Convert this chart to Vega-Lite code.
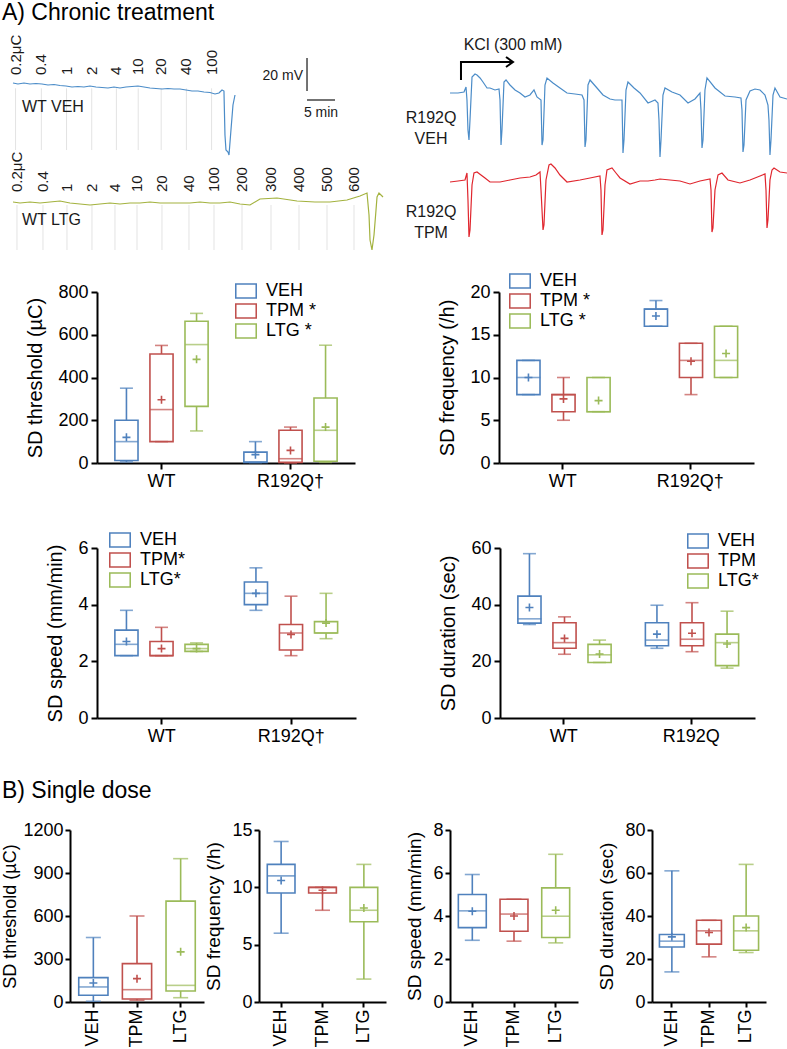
{
  "$schema": "https://vega.github.io/schema/vega-lite/v6.json",
  "background": "white",
  "autosize": {"type": "none"},
  "padding": {"left": 97, "top": 28, "right": 690, "bottom": 1021},
  "title": {"text": "A) Chronic treatment", "offset": 3},
  "config": {
    "font": "Liberation Sans",
    "view": {"stroke": null},
    "title": {"anchor": "start", "frame": "bounds", "fontSize": 23, "fontWeight": "normal", "color": "black"},
    "axis": {"domainColor": "black", "domainWidth": 2, "tickColor": "black", "tickWidth": 2, "tickSize": 6, "labelFontSize": 18, "labelColor": "black", "labelPadding": 3, "titleFontSize": 20, "titleFontWeight": "normal", "titleColor": "black", "titlePadding": 12, "grid": false, "labelOverlap": false, "labelFlush": false},
    "legend": {"symbolType": "M-1,-0.7H1V0.7H-1ZM-0.86,-0.56V0.56H0.86V-0.56Z", "symbolSize": 484, "symbolStrokeWidth": 0, "labelFontSize": 18, "labelColor": "black", "labelOffset": 9, "rowPadding": -1, "padding": 0}
  },
  "datasets": {
    "wtveh": [{"t":0.54,"v":1.21},{"t":1.43,"v":0.61},{"t":2.5,"v":1.21},{"t":3.57,"v":0.61},{"t":4.64,"v":0.91},{"t":5.71,"v":0.61},{"t":6.79,"v":0},{"t":7.86,"v":0.3},{"t":8.93,"v":-0.3},{"t":10.0,"v":-0.61},{"t":11.07,"v":-1.21},{"t":12.14,"v":-0.91},{"t":13.21,"v":-1.21},{"t":14.29,"v":-0.61},{"t":15.36,"v":-1.21},{"t":16.43,"v":-1.52},{"t":17.5,"v":-1.82},{"t":18.57,"v":-1.21},{"t":19.64,"v":-1.82},{"t":20.71,"v":-1.21},{"t":21.79,"v":-0.91},{"t":22.86,"v":-0.61},{"t":23.93,"v":-1.21},{"t":25.0,"v":-1.82},{"t":26.07,"v":-2.12},{"t":27.14,"v":-2.42},{"t":28.21,"v":-2.12},{"t":29.29,"v":-2.42},{"t":30.36,"v":-2.42},{"t":31.43,"v":-3.03},{"t":32.5,"v":-3.64},{"t":33.57,"v":-3.64},{"t":34.64,"v":-4.24},{"t":35.71,"v":-4.55},{"t":36.61,"v":-5.45},{"t":37.32,"v":-4.85},{"t":37.86,"v":-3.03},{"t":38.21,"v":-3.64},{"t":38.39,"v":-30.3},{"t":38.57,"v":-39.39},{"t":38.93,"v":-40.61},{"t":39.11,"v":-42.42},{"t":39.46,"v":-27.27},{"t":39.82,"v":-12.12},{"t":40.18,"v":-6.06}],
    "wtltg": [{"t":0.54,"v":0},{"t":1.79,"v":-0.61},{"t":3.57,"v":0},{"t":5.36,"v":-0.61},{"t":7.14,"v":0},{"t":8.93,"v":0.61},{"t":10.71,"v":-0.61},{"t":12.5,"v":-1.21},{"t":14.29,"v":-1.82},{"t":16.07,"v":-1.21},{"t":17.86,"v":-0.61},{"t":19.64,"v":-1.21},{"t":21.43,"v":-0.61},{"t":23.21,"v":-0.61},{"t":25.0,"v":0},{"t":26.79,"v":-0.61},{"t":28.57,"v":-0.61},{"t":30.36,"v":-0.61},{"t":32.14,"v":-0.61},{"t":33.93,"v":0},{"t":35.71,"v":-0.61},{"t":37.5,"v":-0.61},{"t":39.29,"v":0},{"t":41.07,"v":-1.21},{"t":42.86,"v":-1.82},{"t":44.64,"v":1.82},{"t":47.68,"v":2.42},{"t":51.25,"v":0.61},{"t":54.46,"v":0},{"t":57.14,"v":0},{"t":60.18,"v":1.21},{"t":62.5,"v":3.64},{"t":63.75,"v":5.45},{"t":64.11,"v":-7.88},{"t":64.29,"v":-23.03},{"t":64.64,"v":-29.09},{"t":65.0,"v":-20.0},{"t":65.36,"v":-4.85},{"t":65.54,"v":3.03},{"t":65.89,"v":5.45},{"t":66.61,"v":3.03}],
    "rveh": [{"t":8.93,"v":0},{"t":10.36,"v":0},{"t":11.43,"v":0.61},{"t":11.79,"v":3.64},{"t":11.96,"v":-4.24},{"t":12.14,"v":-22.42},{"t":12.32,"v":-28.48},{"t":12.5,"v":-16.36},{"t":12.86,"v":9.7},{"t":13.39,"v":11.52},{"t":13.75,"v":10.91},{"t":14.29,"v":9.09},{"t":14.82,"v":6.67},{"t":15.54,"v":3.03},{"t":16.07,"v":3.03},{"t":16.96,"v":1.82},{"t":17.68,"v":2.42},{"t":17.86,"v":-4.24},{"t":18.04,"v":-31.52},{"t":18.21,"v":-22.42},{"t":18.57,"v":6.67},{"t":18.93,"v":7.88},{"t":19.64,"v":4.85},{"t":20.54,"v":1.82},{"t":21.43,"v":0},{"t":22.32,"v":-2.42},{"t":23.21,"v":-1.21},{"t":23.93,"v":1.82},{"t":24.46,"v":-2.42},{"t":25.18,"v":-4.24},{"t":25.36,"v":-31.52},{"t":25.54,"v":-28.48},{"t":25.89,"v":4.85},{"t":26.25,"v":9.09},{"t":27.32,"v":6.06},{"t":28.57,"v":3.03},{"t":29.82,"v":0},{"t":31.25,"v":-0.61},{"t":32.5,"v":-1.21},{"t":32.86,"v":-4.24},{"t":33.04,"v":-32.73},{"t":33.21,"v":-28.48},{"t":33.57,"v":4.85},{"t":33.93,"v":7.88},{"t":35.18,"v":3.03},{"t":36.25,"v":-1.21},{"t":37.5,"v":-3.64},{"t":38.39,"v":-4.24},{"t":39.64,"v":-4.24},{"t":39.82,"v":-36.36},{"t":40.0,"v":-28.48},{"t":40.36,"v":1.82},{"t":40.71,"v":6.67},{"t":41.79,"v":3.03},{"t":42.86,"v":0},{"t":44.29,"v":-6.06},{"t":45.54,"v":-4.24},{"t":46.07,"v":-6.06},{"t":46.25,"v":-16.36},{"t":46.43,"v":-38.79},{"t":46.61,"v":-28.48},{"t":46.96,"v":-1.21},{"t":47.32,"v":3.03},{"t":48.57,"v":0.61},{"t":50.0,"v":-1.21},{"t":51.43,"v":-6.06},{"t":52.68,"v":-3.64},{"t":53.57,"v":0},{"t":53.75,"v":-10.3},{"t":53.93,"v":-33.33},{"t":54.11,"v":-28.48},{"t":54.46,"v":1.82},{"t":54.82,"v":9.09},{"t":56.25,"v":3.03},{"t":58.04,"v":-1.82},{"t":59.82,"v":-2.42},{"t":60.89,"v":-3.03},{"t":61.07,"v":-10.3},{"t":61.25,"v":-35.76},{"t":61.43,"v":-31.52},{"t":61.79,"v":-4.24},{"t":62.5,"v":1.21},{"t":63.39,"v":2.42},{"t":64.29,"v":1.82},{"t":65.18,"v":-1.21},{"t":65.71,"v":-7.27},{"t":65.89,"v":-16.36},{"t":66.07,"v":-37.58},{"t":66.25,"v":-28.48},{"t":66.61,"v":-1.21},{"t":66.96,"v":3.03},{"t":67.86,"v":-2.42},{"t":69.11,"v":-3.64}],
    "rtpm": [{"t":8.93,"v":-1.21},{"t":10.36,"v":-0.61},{"t":11.61,"v":0},{"t":11.96,"v":4.24},{"t":12.14,"v":-12.12},{"t":12.32,"v":-34.55},{"t":12.5,"v":-30.3},{"t":12.86,"v":-3.03},{"t":13.21,"v":4.24},{"t":13.75,"v":4.85},{"t":14.46,"v":3.03},{"t":15.18,"v":1.21},{"t":16.07,"v":-1.21},{"t":17.86,"v":-1.21},{"t":19.64,"v":0},{"t":21.43,"v":1.21},{"t":23.21,"v":1.82},{"t":24.29,"v":3.03},{"t":25.0,"v":4.85},{"t":25.18,"v":-6.06},{"t":25.54,"v":-30.3},{"t":25.71,"v":-27.27},{"t":26.07,"v":0},{"t":26.61,"v":9.09},{"t":26.96,"v":9.7},{"t":27.68,"v":7.27},{"t":28.57,"v":3.03},{"t":29.82,"v":-1.21},{"t":32.14,"v":0},{"t":33.93,"v":1.21},{"t":35.71,"v":2.42},{"t":35.89,"v":-6.06},{"t":36.07,"v":-33.33},{"t":36.25,"v":-30.3},{"t":36.61,"v":-3.03},{"t":36.96,"v":6.06},{"t":37.86,"v":7.27},{"t":38.57,"v":4.24},{"t":39.29,"v":1.21},{"t":41.07,"v":-2.42},{"t":42.86,"v":-0.61},{"t":44.29,"v":-0.61},{"t":45.54,"v":0},{"t":46.43,"v":0.61},{"t":48.21,"v":0},{"t":50.0,"v":-0.61},{"t":51.79,"v":-2.42},{"t":53.57,"v":-0.61},{"t":55.36,"v":0.61},{"t":55.54,"v":-6.06},{"t":55.71,"v":-31.52},{"t":55.89,"v":-29.09},{"t":56.25,"v":-6.06},{"t":56.79,"v":3.03},{"t":57.5,"v":4.24},{"t":58.57,"v":0},{"t":60.71,"v":-1.82},{"t":62.5,"v":0},{"t":64.29,"v":2.42},{"t":65.18,"v":3.64},{"t":65.36,"v":-6.06},{"t":65.54,"v":-29.09},{"t":65.71,"v":-24.24},{"t":66.07,"v":0},{"t":66.43,"v":6.06},{"t":66.79,"v":7.27},{"t":67.86,"v":4.85},{"t":69.11,"v":4.24}],
    "stimveh": [{"t":1.0,"label":"0.2μC"},{"t":5.6,"label":"0.4"},{"t":10.1,"label":"1"},{"t":14.6,"label":"2"},{"t":19.0,"label":"4"},{"t":22.9,"label":"10"},{"t":27.0,"label":"20"},{"t":31.5,"label":"40"},{"t":36.0,"label":"100"}],
    "stimltg": [{"t":1.25,"label":"0.2μC"},{"t":5.89,"label":"0.4"},{"t":10.18,"label":"1"},{"t":14.64,"label":"2"},{"t":18.75,"label":"4"},{"t":22.68,"label":"10"},{"t":27.14,"label":"20"},{"t":31.96,"label":"40"},{"t":36.43,"label":"100"},{"t":41.43,"label":"200"},{"t":46.61,"label":"300"},{"t":51.61,"label":"400"},{"t":56.61,"label":"500"},{"t":61.43,"label":"600"}],
    "thr": [
      {"genotype":"WT","treatment":"VEH","min":5,"q1":12,"median":100,"q3":200,"max":350,"mean":120},
      {"genotype":"WT","treatment":"TPM","min":100,"q1":100,"median":250,"q3":510,"max":550,"mean":296},
      {"genotype":"WT","treatment":"LTG","min":150,"q1":265,"median":554,"q3":663,"max":700,"mean":485},
      {"genotype":"R192Q","treatment":"VEH","min":2,"q1":3,"median":5,"q3":51,"max":100,"mean":39},
      {"genotype":"R192Q","treatment":"TPM","min":0,"q1":3,"median":20,"q3":153,"max":168,"mean":59},
      {"genotype":"R192Q","treatment":"LTG","min":3,"q1":8,"median":153,"q3":304,"max":551,"mean":168}
    ],
    "freq": [
      {"genotype":"WT","treatment":"VEH","min":8,"q1":8,"median":10,"q3":12,"max":12,"mean":10},
      {"genotype":"WT","treatment":"TPM","min":5,"q1":6,"median":8,"q3":8,"max":10,"mean":7.5},
      {"genotype":"WT","treatment":"LTG","min":6,"q1":6,"median":6,"q3":10,"max":10,"mean":7.3},
      {"genotype":"R192Q","treatment":"VEH","min":16,"q1":16,"median":18,"q3":18,"max":19,"mean":17.2},
      {"genotype":"R192Q","treatment":"TPM","min":8,"q1":10,"median":12,"q3":14,"max":14,"mean":11.9},
      {"genotype":"R192Q","treatment":"LTG","min":10,"q1":10,"median":12,"q3":16,"max":16,"mean":12.8}
    ],
    "speed": [
      {"genotype":"WT","treatment":"VEH","min":2.2,"q1":2.2,"median":2.6,"q3":3.1,"max":3.8,"mean":2.7},
      {"genotype":"WT","treatment":"TPM","min":2.2,"q1":2.2,"median":2.2,"q3":2.7,"max":3.2,"mean":2.45},
      {"genotype":"WT","treatment":"LTG","min":2.35,"q1":2.35,"median":2.45,"q3":2.6,"max":2.65,"mean":2.45},
      {"genotype":"R192Q","treatment":"VEH","min":3.8,"q1":4.0,"median":4.4,"q3":4.8,"max":5.3,"mean":4.4},
      {"genotype":"R192Q","treatment":"TPM","min":2.2,"q1":2.4,"median":3.0,"q3":3.3,"max":4.3,"mean":2.95},
      {"genotype":"R192Q","treatment":"LTG","min":2.8,"q1":3.0,"median":3.0,"q3":3.4,"max":4.4,"mean":3.35}
    ],
    "dur": [
      {"genotype":"WT","treatment":"VEH","min":33,"q1":33.5,"median":35,"q3":43,"max":58,"mean":39},
      {"genotype":"WT","treatment":"TPM","min":22.5,"q1":24.6,"median":26.6,"q3":33.6,"max":35.7,"mean":28.1},
      {"genotype":"WT","treatment":"LTG","min":19.6,"q1":19.6,"median":22.3,"q3":26,"max":27.5,"mean":22.6},
      {"genotype":"R192Q","treatment":"VEH","min":24.6,"q1":25.5,"median":27.5,"q3":33.6,"max":39.8,"mean":29.6},
      {"genotype":"R192Q","treatment":"TPM","min":23.4,"q1":25.5,"median":27.8,"q3":33.6,"max":40.7,"mean":29.9},
      {"genotype":"R192Q","treatment":"LTG","min":17.6,"q1":18.5,"median":26.6,"q3":29.6,"max":37.7,"mean":26.1}
    ],
    "sthr": [
      {"treatment":"VEH","min":5,"q1":47,"median":105,"q3":170,"max":450,"mean":133},
      {"treatment":"TPM","min":12,"q1":21,"median":86,"q3":268,"max":600,"mean":163},
      {"treatment":"LTG","min":30,"q1":77,"median":116,"q3":704,"max":1000,"mean":350}
    ],
    "sfreq": [
      {"treatment":"VEH","min":6,"q1":9.5,"median":11,"q3":12,"max":14,"mean":10.6},
      {"treatment":"TPM","min":8,"q1":9.5,"median":10,"q3":10,"max":10,"mean":9.75},
      {"treatment":"LTG","min":2,"q1":7,"median":8,"q3":10,"max":12,"mean":8.2}
    ],
    "sspeed": [
      {"treatment":"VEH","min":2.87,"q1":3.46,"median":4.24,"q3":5.0,"max":5.93,"mean":4.22},
      {"treatment":"TPM","min":2.83,"q1":3.29,"median":4.09,"q3":4.78,"max":4.78,"mean":4.0},
      {"treatment":"LTG","min":2.75,"q1":3.0,"median":3.99,"q3":5.31,"max":6.87,"mean":4.27}
    ],
    "sdur": [
      {"treatment":"VEH","min":14,"q1":25.6,"median":28.3,"q3":31.4,"max":61,"mean":30.3},
      {"treatment":"TPM","min":21,"q1":26.9,"median":33.1,"q3":38,"max":38,"mean":32.3},
      {"treatment":"LTG","min":23,"q1":24.1,"median":33.1,"q3":40,"max":64,"mean":34.6}
    ]
  },
  "spacing": 17,
  "resolve": {"scale": {"color": "independent"}, "legend": {"color": "independent"}},
  "vconcat": [
    {
      "spacing": 5,
      "hconcat": [
        {
          "width": 298, "height": 224,
          "layer": [
            {"layer": [
              {"data": {"name": "stimveh"}, "mark": {"type": "rule", "color": "#e3e3e3", "strokeWidth": 1},
               "encoding": {"x": {"field": "t", "type": "quantitative", "scale": {"domain": [15.54, 68.75], "nice": false, "zero": false}, "axis": null},
                            "y": {"datum": -2, "type": "quantitative", "scale": {"domain": [-101.21, 34.55], "nice": false, "zero": false}, "axis": null},
                            "y2": {"datum": -39.4}}},
              {"data": {"name": "wtveh"}, "mark": {"type": "line", "color": "#4b8cc8", "strokeWidth": 1.2},
               "encoding": {"x": {"field": "t", "type": "quantitative", "scale": {"domain": [15.54, 68.75], "nice": false, "zero": false}, "axis": null},
                            "y": {"field": "v", "type": "quantitative", "scale": {"domain": [-101.21, 34.55], "nice": false, "zero": false}, "axis": null}}},
              {"data": {"name": "stimveh"}, "mark": {"type": "text", "angle": 270, "align": "left", "baseline": "middle", "fontSize": 15, "color": "#1a1a1a"},
               "encoding": {"x": {"field": "t", "type": "quantitative", "scale": {"domain": [15.54, 68.75], "nice": false, "zero": false}, "axis": null},
                            "y": {"datum": 6.06, "type": "quantitative", "scale": {"domain": [-101.21, 34.55], "nice": false, "zero": false}, "axis": null},
                            "text": {"field": "label"}}},
              {"data": {"values": [{"t": 2.14, "v": -13.33, "label": "WT VEH"}]}, "mark": {"type": "text", "align": "left", "baseline": "middle", "fontSize": 16, "color": "#1a1a1a"},
               "encoding": {"x": {"field": "t", "type": "quantitative", "scale": {"domain": [15.54, 68.75], "nice": false, "zero": false}, "axis": null},
                            "y": {"field": "v", "type": "quantitative", "scale": {"domain": [-101.21, 34.55], "nice": false, "zero": false}, "axis": null},
                            "text": {"field": "label"}}},
              {"data": {"values": [{"t": 53.04, "t2": 53.04, "v": 16.36, "v2": -3.64}, {"t": 53.04, "t2": 58.04, "v": -9.09, "v2": -9.09}]}, "mark": {"type": "rule", "color": "#444444", "strokeWidth": 1.5},
               "encoding": {"x": {"field": "t", "type": "quantitative", "scale": {"domain": [15.54, 68.75], "nice": false, "zero": false}, "axis": null}, "x2": {"field": "t2"},
                            "y": {"field": "v", "type": "quantitative", "scale": {"domain": [-101.21, 34.55], "nice": false, "zero": false}, "axis": null}, "y2": {"field": "v2"}}},
              {"data": {"values": [{"t": 52.32, "v": 5.45, "label": "20 mV"}]}, "mark": {"type": "text", "align": "right", "baseline": "middle", "fontSize": 14, "color": "#1a1a1a"},
               "encoding": {"x": {"field": "t", "type": "quantitative", "scale": {"domain": [15.54, 68.75], "nice": false, "zero": false}, "axis": null},
                            "y": {"field": "v", "type": "quantitative", "scale": {"domain": [-101.21, 34.55], "nice": false, "zero": false}, "axis": null},
                            "text": {"field": "label"}}},
              {"data": {"values": [{"t": 55.54, "v": -16.97, "label": "5 min"}]}, "mark": {"type": "text", "align": "center", "baseline": "middle", "fontSize": 14, "color": "#1a1a1a"},
               "encoding": {"x": {"field": "t", "type": "quantitative", "scale": {"domain": [15.54, 68.75], "nice": false, "zero": false}, "axis": null},
                            "y": {"field": "v", "type": "quantitative", "scale": {"domain": [-101.21, 34.55], "nice": false, "zero": false}, "axis": null},
                            "text": {"field": "label"}}}
            ]},
            {"layer": [
              {"data": {"name": "stimltg"}, "mark": {"type": "rule", "color": "#e3e3e3", "strokeWidth": 1},
               "encoding": {"x": {"field": "t", "type": "quantitative", "scale": {"domain": [15.54, 68.75], "nice": false, "zero": false}, "axis": null},
                            "y": {"datum": -1.8, "type": "quantitative", "scale": {"domain": [-30.3, 105.45], "nice": false, "zero": false}, "axis": null},
                            "y2": {"datum": -29.1}}},
              {"data": {"name": "wtltg"}, "mark": {"type": "line", "color": "#a3b23e", "strokeWidth": 1.2},
               "encoding": {"x": {"field": "t", "type": "quantitative", "scale": {"domain": [15.54, 68.75], "nice": false, "zero": false}, "axis": null},
                            "y": {"field": "v", "type": "quantitative", "scale": {"domain": [-30.3, 105.45], "nice": false, "zero": false}, "axis": null}}},
              {"data": {"name": "stimltg"}, "mark": {"type": "text", "angle": 270, "align": "left", "baseline": "middle", "fontSize": 15, "color": "#1a1a1a"},
               "encoding": {"x": {"field": "t", "type": "quantitative", "scale": {"domain": [15.54, 68.75], "nice": false, "zero": false}, "axis": null},
                            "y": {"datum": 6.0, "type": "quantitative", "scale": {"domain": [-30.3, 105.45], "nice": false, "zero": false}, "axis": null},
                            "text": {"field": "label"}}},
              {"data": {"values": [{"t": 2.14, "v": -10.91, "label": "WT LTG"}]}, "mark": {"type": "text", "align": "left", "baseline": "middle", "fontSize": 16, "color": "#1a1a1a"},
               "encoding": {"x": {"field": "t", "type": "quantitative", "scale": {"domain": [15.54, 68.75], "nice": false, "zero": false}, "axis": null},
                            "y": {"field": "v", "type": "quantitative", "scale": {"domain": [-30.3, 105.45], "nice": false, "zero": false}, "axis": null},
                            "text": {"field": "label"}}}
            ]}
          ],
          "resolve": {"scale": {"y": "independent"}}
        },
        {
          "width": 387, "height": 224,
          "layer": [
            {"layer": [
              {"data": {"name": "rveh"}, "mark": {"type": "line", "color": "#4b8cc8", "strokeWidth": 1.2},
               "encoding": {"x": {"field": "t", "type": "quantitative", "scale": {"domain": [0, 69.11], "nice": false, "zero": false}, "axis": null},
                            "y": {"field": "v", "type": "quantitative", "scale": {"domain": [-96.36, 39.39], "nice": false, "zero": false}, "axis": null}}},
              {"data": {"values": [{"t": 10.89, "v": 7.88, "part": "stem", "i": 0}, {"t": 10.89, "v": 18.79, "part": "stem", "i": 1}, {"t": 20.18, "v": 18.79, "part": "stem", "i": 2}, {"t": 18.93, "v": 21.82, "part": "head", "i": 0}, {"t": 20.18, "v": 18.79, "part": "head", "i": 1}, {"t": 18.93, "v": 15.76, "part": "head", "i": 2}]},
               "mark": {"type": "line", "color": "black", "strokeWidth": 2},
               "encoding": {"x": {"field": "t", "type": "quantitative", "scale": {"domain": [0, 69.11], "nice": false, "zero": false}, "axis": null},
                            "y": {"field": "v", "type": "quantitative", "scale": {"domain": [-96.36, 39.39], "nice": false, "zero": false}, "axis": null},
                            "detail": {"field": "part"}, "order": {"field": "i"}}},
              {"data": {"values": [{"t": 20.18, "v": 29.09, "label": "KCl (300 mM)"}]}, "mark": {"type": "text", "align": "center", "baseline": "middle", "fontSize": 16, "color": "#1a1a1a"},
               "encoding": {"x": {"field": "t", "type": "quantitative", "scale": {"domain": [0, 69.11], "nice": false, "zero": false}, "axis": null},
                            "y": {"field": "v", "type": "quantitative", "scale": {"domain": [-96.36, 39.39], "nice": false, "zero": false}, "axis": null},
                            "text": {"field": "label"}}},
              {"data": {"values": [{"t": 5.54, "v": -15.15, "label": "R192Q\nVEH"}]}, "mark": {"type": "text", "align": "center", "baseline": "middle", "fontSize": 16, "lineBreak": "\n", "lineHeight": 21, "color": "#1a1a1a"},
               "encoding": {"x": {"field": "t", "type": "quantitative", "scale": {"domain": [0, 69.11], "nice": false, "zero": false}, "axis": null},
                            "y": {"field": "v", "type": "quantitative", "scale": {"domain": [-96.36, 39.39], "nice": false, "zero": false}, "axis": null},
                            "text": {"field": "label"}}}
            ]},
            {"layer": [
              {"data": {"name": "rtpm"}, "mark": {"type": "line", "color": "#e0262e", "strokeWidth": 1.2},
               "encoding": {"x": {"field": "t", "type": "quantitative", "scale": {"domain": [0, 69.11], "nice": false, "zero": false}, "axis": null},
                            "y": {"field": "v", "type": "quantitative", "scale": {"domain": [-43.64, 92.12], "nice": false, "zero": false}, "axis": null}}},
              {"data": {"values": [{"t": 5.54, "v": -19.39, "label": "R192Q\nTPM"}]}, "mark": {"type": "text", "align": "center", "baseline": "middle", "fontSize": 16, "lineBreak": "\n", "lineHeight": 21, "color": "#1a1a1a"},
               "encoding": {"x": {"field": "t", "type": "quantitative", "scale": {"domain": [0, 69.11], "nice": false, "zero": false}, "axis": null},
                            "y": {"field": "v", "type": "quantitative", "scale": {"domain": [-43.64, 92.12], "nice": false, "zero": false}, "axis": null},
                            "text": {"field": "label"}}}
            ]}
          ],
          "resolve": {"scale": {"y": "independent"}}
        }
      ]
    },
    {
      "spacing": 39,
      "resolve": {"scale": {"color": "independent"}, "legend": {"color": "independent"}},
      "vconcat": [
        {
          "spacing": 82,
          "resolve": {"scale": {"color": "independent"}, "legend": {"color": "independent"}},
          "hconcat": [
            {
              "width": 258, "height": 171,
              "data": {"name": "thr"},
              "encoding": {
                "x": {"field": "genotype", "type": "nominal", "sort": ["WT", "R192Q"], "scale": {"paddingInner": 0, "paddingOuter": 0}, "axis": {"title": null, "labelAngle": 0, "labelExpr": "datum.value == 'R192Q' ? 'R192Q†' : datum.value"}},
                "xOffset": {"field": "treatment", "type": "nominal", "sort": ["VEH", "TPM", "LTG"], "scale": {"paddingInner": 0.34, "paddingOuter": 0.51}},
                "color": {"field": "treatment", "type": "nominal", "scale": {"domain": ["VEH", "TPM", "LTG"], "range": ["#4F81BD", "#C0504D", "#9BBB59"]}, "legend": {"title": null, "orient": "none", "legendX": 138, "legendY": -12, "labelExpr": "datum.label == 'VEH' ? 'VEH' : datum.label + ' *'"}}
              },
              "layer": [
                {"mark": {"type": "bar", "filled": false, "strokeWidth": 1.6}, "encoding": {"y": {"field": "q1", "type": "quantitative", "scale": {"domain": [0, 800], "nice": false}, "axis": {"title": "SD threshold (µC)", "values": [0, 200, 400, 600, 800]}}, "y2": {"field": "q3"}}},
                {"mark": {"type": "rule", "strokeWidth": 1.6}, "encoding": {"y": {"field": "min", "type": "quantitative", "scale": {"domain": [0, 800], "nice": false}, "axis": {"title": "SD threshold (µC)", "values": [0, 200, 400, 600, 800]}}, "y2": {"field": "q1"}}},
                {"mark": {"type": "rule", "strokeWidth": 1.6}, "encoding": {"y": {"field": "q3", "type": "quantitative", "scale": {"domain": [0, 800], "nice": false}, "axis": {"title": "SD threshold (µC)", "values": [0, 200, 400, 600, 800]}}, "y2": {"field": "max"}}},
                {"mark": {"type": "tick", "size": 23, "thickness": 1.6}, "encoding": {"y": {"field": "median", "type": "quantitative", "scale": {"domain": [0, 800], "nice": false}, "axis": {"title": "SD threshold (µC)", "values": [0, 200, 400, 600, 800]}}}},
                {"mark": {"type": "tick", "size": 13, "thickness": 1.6}, "encoding": {"y": {"field": "min", "type": "quantitative", "scale": {"domain": [0, 800], "nice": false}, "axis": {"title": "SD threshold (µC)", "values": [0, 200, 400, 600, 800]}}}},
                {"mark": {"type": "tick", "size": 13, "thickness": 1.6}, "encoding": {"y": {"field": "max", "type": "quantitative", "scale": {"domain": [0, 800], "nice": false}, "axis": {"title": "SD threshold (µC)", "values": [0, 200, 400, 600, 800]}}}},
                {"mark": {"type": "point", "shape": "M-1,0H1M0,-1V1", "filled": false, "size": 64, "strokeWidth": 1.6, "opacity": 1}, "encoding": {"y": {"field": "mean", "type": "quantitative", "scale": {"domain": [0, 800], "nice": false}, "axis": {"title": "SD threshold (µC)", "values": [0, 200, 400, 600, 800]}}}}
              ]
            },
            {
              "width": 255, "height": 171,
              "data": {"name": "freq"},
              "encoding": {
                "x": {"field": "genotype", "type": "nominal", "sort": ["WT", "R192Q"], "scale": {"paddingInner": 0, "paddingOuter": 0}, "axis": {"title": null, "labelAngle": 0, "labelExpr": "datum.value == 'R192Q' ? 'R192Q†' : datum.value"}},
                "xOffset": {"field": "treatment", "type": "nominal", "sort": ["VEH", "TPM", "LTG"], "scale": {"paddingInner": 0.34, "paddingOuter": 0.51}},
                "color": {"field": "treatment", "type": "nominal", "scale": {"domain": ["VEH", "TPM", "LTG"], "range": ["#4F81BD", "#C0504D", "#9BBB59"]}, "legend": {"title": null, "orient": "none", "legendX": 10, "legendY": -22, "labelExpr": "datum.label == 'VEH' ? 'VEH' : datum.label + ' *'"}}
              },
              "layer": [
                {"mark": {"type": "bar", "filled": false, "strokeWidth": 1.6}, "encoding": {"y": {"field": "q1", "type": "quantitative", "scale": {"domain": [0, 20], "nice": false}, "axis": {"title": "SD frequency (/h)", "values": [0, 5, 10, 15, 20]}}, "y2": {"field": "q3"}}},
                {"mark": {"type": "rule", "strokeWidth": 1.6}, "encoding": {"y": {"field": "min", "type": "quantitative", "scale": {"domain": [0, 20], "nice": false}, "axis": {"title": "SD frequency (/h)", "values": [0, 5, 10, 15, 20]}}, "y2": {"field": "q1"}}},
                {"mark": {"type": "rule", "strokeWidth": 1.6}, "encoding": {"y": {"field": "q3", "type": "quantitative", "scale": {"domain": [0, 20], "nice": false}, "axis": {"title": "SD frequency (/h)", "values": [0, 5, 10, 15, 20]}}, "y2": {"field": "max"}}},
                {"mark": {"type": "tick", "size": 24, "thickness": 1.6}, "encoding": {"y": {"field": "median", "type": "quantitative", "scale": {"domain": [0, 20], "nice": false}, "axis": {"title": "SD frequency (/h)", "values": [0, 5, 10, 15, 20]}}}},
                {"mark": {"type": "tick", "size": 13, "thickness": 1.6}, "encoding": {"y": {"field": "min", "type": "quantitative", "scale": {"domain": [0, 20], "nice": false}, "axis": {"title": "SD frequency (/h)", "values": [0, 5, 10, 15, 20]}}}},
                {"mark": {"type": "tick", "size": 13, "thickness": 1.6}, "encoding": {"y": {"field": "max", "type": "quantitative", "scale": {"domain": [0, 20], "nice": false}, "axis": {"title": "SD frequency (/h)", "values": [0, 5, 10, 15, 20]}}}},
                {"mark": {"type": "point", "shape": "M-1,0H1M0,-1V1", "filled": false, "size": 64, "strokeWidth": 1.6, "opacity": 1}, "encoding": {"y": {"field": "mean", "type": "quantitative", "scale": {"domain": [0, 20], "nice": false}, "axis": {"title": "SD frequency (/h)", "values": [0, 5, 10, 15, 20]}}}}
              ]
            }
          ]
        },
        {
          "spacing": 35,
          "resolve": {"scale": {"color": "independent"}, "legend": {"color": "independent"}},
          "vconcat": [
            {
              "spacing": 82,
              "resolve": {"scale": {"color": "independent"}, "legend": {"color": "independent"}},
              "hconcat": [
                {
                  "width": 259, "height": 170,
                  "data": {"name": "speed"},
                  "encoding": {
                    "x": {"field": "genotype", "type": "nominal", "sort": ["WT", "R192Q"], "scale": {"paddingInner": 0, "paddingOuter": 0}, "axis": {"title": null, "labelAngle": 0, "labelExpr": "datum.value == 'R192Q' ? 'R192Q†' : datum.value"}},
                    "xOffset": {"field": "treatment", "type": "nominal", "sort": ["VEH", "TPM", "LTG"], "scale": {"paddingInner": 0.34, "paddingOuter": 0.51}},
                    "color": {"field": "treatment", "type": "nominal", "scale": {"domain": ["VEH", "TPM", "LTG"], "range": ["#4F81BD", "#C0504D", "#9BBB59"]}, "legend": {"title": null, "orient": "none", "legendX": 12, "legendY": -19, "labelExpr": "datum.label == 'VEH' ? 'VEH' : datum.label + '*'"}}
                  },
                  "layer": [
                    {"mark": {"type": "bar", "filled": false, "strokeWidth": 1.6}, "encoding": {"y": {"field": "q1", "type": "quantitative", "scale": {"domain": [0, 6], "nice": false}, "axis": {"title": "SD speed (mm/min)", "values": [0, 2, 4, 6]}}, "y2": {"field": "q3"}}},
                    {"mark": {"type": "rule", "strokeWidth": 1.6}, "encoding": {"y": {"field": "min", "type": "quantitative", "scale": {"domain": [0, 6], "nice": false}, "axis": {"title": "SD speed (mm/min)", "values": [0, 2, 4, 6]}}, "y2": {"field": "q1"}}},
                    {"mark": {"type": "rule", "strokeWidth": 1.6}, "encoding": {"y": {"field": "q3", "type": "quantitative", "scale": {"domain": [0, 6], "nice": false}, "axis": {"title": "SD speed (mm/min)", "values": [0, 2, 4, 6]}}, "y2": {"field": "max"}}},
                    {"mark": {"type": "tick", "size": 23, "thickness": 1.6}, "encoding": {"y": {"field": "median", "type": "quantitative", "scale": {"domain": [0, 6], "nice": false}, "axis": {"title": "SD speed (mm/min)", "values": [0, 2, 4, 6]}}}},
                    {"mark": {"type": "tick", "size": 13, "thickness": 1.6}, "encoding": {"y": {"field": "min", "type": "quantitative", "scale": {"domain": [0, 6], "nice": false}, "axis": {"title": "SD speed (mm/min)", "values": [0, 2, 4, 6]}}}},
                    {"mark": {"type": "tick", "size": 13, "thickness": 1.6}, "encoding": {"y": {"field": "max", "type": "quantitative", "scale": {"domain": [0, 6], "nice": false}, "axis": {"title": "SD speed (mm/min)", "values": [0, 2, 4, 6]}}}},
                    {"mark": {"type": "point", "shape": "M-1,0H1M0,-1V1", "filled": false, "size": 64, "strokeWidth": 1.6, "opacity": 1}, "encoding": {"y": {"field": "mean", "type": "quantitative", "scale": {"domain": [0, 6], "nice": false}, "axis": {"title": "SD speed (mm/min)", "values": [0, 2, 4, 6]}}}}
                  ]
                },
                {
                  "width": 255, "height": 170,
                  "data": {"name": "dur"},
                  "encoding": {
                    "x": {"field": "genotype", "type": "nominal", "sort": ["WT", "R192Q"], "scale": {"paddingInner": 0, "paddingOuter": 0}, "axis": {"title": null, "labelAngle": 0}},
                    "xOffset": {"field": "treatment", "type": "nominal", "sort": ["VEH", "TPM", "LTG"], "scale": {"paddingInner": 0.34, "paddingOuter": 0.51}},
                    "color": {"field": "treatment", "type": "nominal", "scale": {"domain": ["VEH", "TPM", "LTG"], "range": ["#4F81BD", "#C0504D", "#9BBB59"]}, "legend": {"title": null, "orient": "none", "legendX": 187, "legendY": -18, "labelExpr": "datum.label == 'LTG' ? 'LTG*' : datum.label"}}
                  },
                  "layer": [
                    {"mark": {"type": "bar", "filled": false, "strokeWidth": 1.6}, "encoding": {"y": {"field": "q1", "type": "quantitative", "scale": {"domain": [0, 60], "nice": false}, "axis": {"title": "SD duration (sec)", "values": [0, 20, 40, 60]}}, "y2": {"field": "q3"}}},
                    {"mark": {"type": "rule", "strokeWidth": 1.6}, "encoding": {"y": {"field": "min", "type": "quantitative", "scale": {"domain": [0, 60], "nice": false}, "axis": {"title": "SD duration (sec)", "values": [0, 20, 40, 60]}}, "y2": {"field": "q1"}}},
                    {"mark": {"type": "rule", "strokeWidth": 1.6}, "encoding": {"y": {"field": "q3", "type": "quantitative", "scale": {"domain": [0, 60], "nice": false}, "axis": {"title": "SD duration (sec)", "values": [0, 20, 40, 60]}}, "y2": {"field": "max"}}},
                    {"mark": {"type": "tick", "size": 24, "thickness": 1.6}, "encoding": {"y": {"field": "median", "type": "quantitative", "scale": {"domain": [0, 60], "nice": false}, "axis": {"title": "SD duration (sec)", "values": [0, 20, 40, 60]}}}},
                    {"mark": {"type": "tick", "size": 13, "thickness": 1.6}, "encoding": {"y": {"field": "min", "type": "quantitative", "scale": {"domain": [0, 60], "nice": false}, "axis": {"title": "SD duration (sec)", "values": [0, 20, 40, 60]}}}},
                    {"mark": {"type": "tick", "size": 13, "thickness": 1.6}, "encoding": {"y": {"field": "max", "type": "quantitative", "scale": {"domain": [0, 60], "nice": false}, "axis": {"title": "SD duration (sec)", "values": [0, 20, 40, 60]}}}},
                    {"mark": {"type": "point", "shape": "M-1,0H1M0,-1V1", "filled": false, "size": 64, "strokeWidth": 1.6, "opacity": 1}, "encoding": {"y": {"field": "mean", "type": "quantitative", "scale": {"domain": [0, 60], "nice": false}, "axis": {"title": "SD duration (sec)", "values": [0, 20, 40, 60]}}}}
                  ]
                }
              ]
            },
            {
              "title": {"text": "B) Single dose", "offset": 18},
              "spacing": -27,
              "resolve": {"scale": {"color": "independent"}, "legend": {"color": "independent"}},
              "hconcat": [
                {
                  "width": 107, "height": 172,
                  "data": {"name": "sthr"},
                  "encoding": {
                    "x": {"field": "treatment", "type": "nominal", "sort": ["VEH", "TPM", "LTG"], "scale": {"paddingInner": 0.33, "paddingOuter": 0.2, "range": [-27, 107]}, "axis": {"title": null, "labelAngle": 270, "tickSize": 5, "labelPadding": 2}},
                    "color": {"field": "treatment", "type": "nominal", "scale": {"domain": ["VEH", "TPM", "LTG"], "range": ["#4F81BD", "#C0504D", "#9BBB59"]}, "legend": null}
                  },
                  "layer": [
                    {"mark": {"type": "bar", "filled": false, "strokeWidth": 1.6}, "encoding": {"y": {"field": "q1", "type": "quantitative", "scale": {"domain": [0, 1200], "nice": false}, "axis": {"title": "SD threshold (µC)", "values": [0, 300, 600, 900, 1200], "format": "d", "offset": 27, "titleFontSize": 18, "tickSize": 5, "labelPadding": 2, "titlePadding": 3}}, "y2": {"field": "q3"}}},
                    {"mark": {"type": "rule", "strokeWidth": 1.6}, "encoding": {"y": {"field": "min", "type": "quantitative", "scale": {"domain": [0, 1200], "nice": false}, "axis": {"title": "SD threshold (µC)", "values": [0, 300, 600, 900, 1200], "format": "d", "offset": 27, "titleFontSize": 18, "tickSize": 5, "labelPadding": 2, "titlePadding": 3}}, "y2": {"field": "q1"}}},
                    {"mark": {"type": "rule", "strokeWidth": 1.6}, "encoding": {"y": {"field": "q3", "type": "quantitative", "scale": {"domain": [0, 1200], "nice": false}, "axis": {"title": "SD threshold (µC)", "values": [0, 300, 600, 900, 1200], "format": "d", "offset": 27, "titleFontSize": 18, "tickSize": 5, "labelPadding": 2, "titlePadding": 3}}, "y2": {"field": "max"}}},
                    {"mark": {"type": "tick", "size": 29, "thickness": 1.6}, "encoding": {"y": {"field": "median", "type": "quantitative", "scale": {"domain": [0, 1200], "nice": false}, "axis": {"title": "SD threshold (µC)", "values": [0, 300, 600, 900, 1200], "format": "d", "offset": 27, "titleFontSize": 18, "tickSize": 5, "labelPadding": 2, "titlePadding": 3}}}},
                    {"mark": {"type": "tick", "size": 15, "thickness": 1.6}, "encoding": {"y": {"field": "min", "type": "quantitative", "scale": {"domain": [0, 1200], "nice": false}, "axis": {"title": "SD threshold (µC)", "values": [0, 300, 600, 900, 1200], "format": "d", "offset": 27, "titleFontSize": 18, "tickSize": 5, "labelPadding": 2, "titlePadding": 3}}}},
                    {"mark": {"type": "tick", "size": 15, "thickness": 1.6}, "encoding": {"y": {"field": "max", "type": "quantitative", "scale": {"domain": [0, 1200], "nice": false}, "axis": {"title": "SD threshold (µC)", "values": [0, 300, 600, 900, 1200], "format": "d", "offset": 27, "titleFontSize": 18, "tickSize": 5, "labelPadding": 2, "titlePadding": 3}}}},
                    {"mark": {"type": "point", "shape": "M-1,0H1M0,-1V1", "filled": false, "size": 64, "strokeWidth": 1.6, "opacity": 1}, "encoding": {"y": {"field": "mean", "type": "quantitative", "scale": {"domain": [0, 1200], "nice": false}, "axis": {"title": "SD threshold (µC)", "values": [0, 300, 600, 900, 1200], "format": "d", "offset": 27, "titleFontSize": 18, "tickSize": 5, "labelPadding": 2, "titlePadding": 3}}}}
                  ]
                },
                {
                  "spacing": 19,
                  "resolve": {"scale": {"color": "independent"}, "legend": {"color": "independent"}},
                  "hconcat": [
                    {
                      "width": 127, "height": 172,
                      "data": {"name": "sfreq"},
                      "encoding": {
                        "x": {"field": "treatment", "type": "nominal", "sort": ["VEH", "TPM", "LTG"], "scale": {"paddingInner": 0.33, "paddingOuter": 0.2}, "axis": {"title": null, "labelAngle": 270, "tickSize": 5, "labelPadding": 2}},
                        "color": {"field": "treatment", "type": "nominal", "scale": {"domain": ["VEH", "TPM", "LTG"], "range": ["#4F81BD", "#C0504D", "#9BBB59"]}, "legend": null}
                      },
                      "layer": [
                        {"mark": {"type": "bar", "filled": false, "strokeWidth": 1.6}, "encoding": {"y": {"field": "q1", "type": "quantitative", "scale": {"domain": [0, 15], "nice": false}, "axis": {"title": "SD frequency (/h)", "values": [0, 5, 10, 15], "titleFontSize": 19, "tickSize": 5, "labelPadding": 2, "titlePadding": 8}}, "y2": {"field": "q3"}}},
                        {"mark": {"type": "rule", "strokeWidth": 1.6}, "encoding": {"y": {"field": "min", "type": "quantitative", "scale": {"domain": [0, 15], "nice": false}, "axis": {"title": "SD frequency (/h)", "values": [0, 5, 10, 15], "titleFontSize": 19, "tickSize": 5, "labelPadding": 2, "titlePadding": 8}}, "y2": {"field": "q1"}}},
                        {"mark": {"type": "rule", "strokeWidth": 1.6}, "encoding": {"y": {"field": "q3", "type": "quantitative", "scale": {"domain": [0, 15], "nice": false}, "axis": {"title": "SD frequency (/h)", "values": [0, 5, 10, 15], "titleFontSize": 19, "tickSize": 5, "labelPadding": 2, "titlePadding": 8}}, "y2": {"field": "max"}}},
                        {"mark": {"type": "tick", "size": 28, "thickness": 1.6}, "encoding": {"y": {"field": "median", "type": "quantitative", "scale": {"domain": [0, 15], "nice": false}, "axis": {"title": "SD frequency (/h)", "values": [0, 5, 10, 15], "titleFontSize": 19, "tickSize": 5, "labelPadding": 2, "titlePadding": 8}}}},
                        {"mark": {"type": "tick", "size": 15, "thickness": 1.6}, "encoding": {"y": {"field": "min", "type": "quantitative", "scale": {"domain": [0, 15], "nice": false}, "axis": {"title": "SD frequency (/h)", "values": [0, 5, 10, 15], "titleFontSize": 19, "tickSize": 5, "labelPadding": 2, "titlePadding": 8}}}},
                        {"mark": {"type": "tick", "size": 15, "thickness": 1.6}, "encoding": {"y": {"field": "max", "type": "quantitative", "scale": {"domain": [0, 15], "nice": false}, "axis": {"title": "SD frequency (/h)", "values": [0, 5, 10, 15], "titleFontSize": 19, "tickSize": 5, "labelPadding": 2, "titlePadding": 8}}}},
                        {"mark": {"type": "point", "shape": "M-1,0H1M0,-1V1", "filled": false, "size": 64, "strokeWidth": 1.6, "opacity": 1}, "encoding": {"y": {"field": "mean", "type": "quantitative", "scale": {"domain": [0, 15], "nice": false}, "axis": {"title": "SD frequency (/h)", "values": [0, 5, 10, 15], "titleFontSize": 19, "tickSize": 5, "labelPadding": 2, "titlePadding": 8}}}}
                      ]
                    },
                    {
                      "width": 128, "height": 172,
                      "data": {"name": "sspeed"},
                      "encoding": {
                        "x": {"field": "treatment", "type": "nominal", "sort": ["VEH", "TPM", "LTG"], "scale": {"paddingInner": 0.33, "paddingOuter": 0.2}, "axis": {"title": null, "labelAngle": 270, "tickSize": 5, "labelPadding": 2}},
                        "color": {"field": "treatment", "type": "nominal", "scale": {"domain": ["VEH", "TPM", "LTG"], "range": ["#4F81BD", "#C0504D", "#9BBB59"]}, "legend": null}
                      },
                      "layer": [
                        {"mark": {"type": "bar", "filled": false, "strokeWidth": 1.6}, "encoding": {"y": {"field": "q1", "type": "quantitative", "scale": {"domain": [0, 8], "nice": false}, "axis": {"title": "SD speed (mm/min)", "values": [0, 2, 4, 6, 8], "titleFontSize": 19, "tickSize": 5, "labelPadding": 2, "titlePadding": 8}}, "y2": {"field": "q3"}}},
                        {"mark": {"type": "rule", "strokeWidth": 1.6}, "encoding": {"y": {"field": "min", "type": "quantitative", "scale": {"domain": [0, 8], "nice": false}, "axis": {"title": "SD speed (mm/min)", "values": [0, 2, 4, 6, 8], "titleFontSize": 19, "tickSize": 5, "labelPadding": 2, "titlePadding": 8}}, "y2": {"field": "q1"}}},
                        {"mark": {"type": "rule", "strokeWidth": 1.6}, "encoding": {"y": {"field": "q3", "type": "quantitative", "scale": {"domain": [0, 8], "nice": false}, "axis": {"title": "SD speed (mm/min)", "values": [0, 2, 4, 6, 8], "titleFontSize": 19, "tickSize": 5, "labelPadding": 2, "titlePadding": 8}}, "y2": {"field": "max"}}},
                        {"mark": {"type": "tick", "size": 28, "thickness": 1.6}, "encoding": {"y": {"field": "median", "type": "quantitative", "scale": {"domain": [0, 8], "nice": false}, "axis": {"title": "SD speed (mm/min)", "values": [0, 2, 4, 6, 8], "titleFontSize": 19, "tickSize": 5, "labelPadding": 2, "titlePadding": 8}}}},
                        {"mark": {"type": "tick", "size": 15, "thickness": 1.6}, "encoding": {"y": {"field": "min", "type": "quantitative", "scale": {"domain": [0, 8], "nice": false}, "axis": {"title": "SD speed (mm/min)", "values": [0, 2, 4, 6, 8], "titleFontSize": 19, "tickSize": 5, "labelPadding": 2, "titlePadding": 8}}}},
                        {"mark": {"type": "tick", "size": 15, "thickness": 1.6}, "encoding": {"y": {"field": "max", "type": "quantitative", "scale": {"domain": [0, 8], "nice": false}, "axis": {"title": "SD speed (mm/min)", "values": [0, 2, 4, 6, 8], "titleFontSize": 19, "tickSize": 5, "labelPadding": 2, "titlePadding": 8}}}},
                        {"mark": {"type": "point", "shape": "M-1,0H1M0,-1V1", "filled": false, "size": 64, "strokeWidth": 1.6, "opacity": 1}, "encoding": {"y": {"field": "mean", "type": "quantitative", "scale": {"domain": [0, 8], "nice": false}, "axis": {"title": "SD speed (mm/min)", "values": [0, 2, 4, 6, 8], "titleFontSize": 19, "tickSize": 5, "labelPadding": 2, "titlePadding": 8}}}}
                      ]
                    },
                    {
                      "width": 114, "height": 172,
                      "data": {"name": "sdur"},
                      "encoding": {
                        "x": {"field": "treatment", "type": "nominal", "sort": ["VEH", "TPM", "LTG"], "scale": {"paddingInner": 0.33, "paddingOuter": 0.2}, "axis": {"title": null, "labelAngle": 270, "tickSize": 5, "labelPadding": 2}},
                        "color": {"field": "treatment", "type": "nominal", "scale": {"domain": ["VEH", "TPM", "LTG"], "range": ["#4F81BD", "#C0504D", "#9BBB59"]}, "legend": null}
                      },
                      "layer": [
                        {"mark": {"type": "bar", "filled": false, "strokeWidth": 1.6}, "encoding": {"y": {"field": "q1", "type": "quantitative", "scale": {"domain": [0, 80], "nice": false}, "axis": {"title": "SD duration (sec)", "values": [0, 20, 40, 60, 80], "titleFontSize": 19, "tickSize": 5, "labelPadding": 2, "titlePadding": 8}}, "y2": {"field": "q3"}}},
                        {"mark": {"type": "rule", "strokeWidth": 1.6}, "encoding": {"y": {"field": "min", "type": "quantitative", "scale": {"domain": [0, 80], "nice": false}, "axis": {"title": "SD duration (sec)", "values": [0, 20, 40, 60, 80], "titleFontSize": 19, "tickSize": 5, "labelPadding": 2, "titlePadding": 8}}, "y2": {"field": "q1"}}},
                        {"mark": {"type": "rule", "strokeWidth": 1.6}, "encoding": {"y": {"field": "q3", "type": "quantitative", "scale": {"domain": [0, 80], "nice": false}, "axis": {"title": "SD duration (sec)", "values": [0, 20, 40, 60, 80], "titleFontSize": 19, "tickSize": 5, "labelPadding": 2, "titlePadding": 8}}, "y2": {"field": "max"}}},
                        {"mark": {"type": "tick", "size": 25, "thickness": 1.6}, "encoding": {"y": {"field": "median", "type": "quantitative", "scale": {"domain": [0, 80], "nice": false}, "axis": {"title": "SD duration (sec)", "values": [0, 20, 40, 60, 80], "titleFontSize": 19, "tickSize": 5, "labelPadding": 2, "titlePadding": 8}}}},
                        {"mark": {"type": "tick", "size": 15, "thickness": 1.6}, "encoding": {"y": {"field": "min", "type": "quantitative", "scale": {"domain": [0, 80], "nice": false}, "axis": {"title": "SD duration (sec)", "values": [0, 20, 40, 60, 80], "titleFontSize": 19, "tickSize": 5, "labelPadding": 2, "titlePadding": 8}}}},
                        {"mark": {"type": "tick", "size": 15, "thickness": 1.6}, "encoding": {"y": {"field": "max", "type": "quantitative", "scale": {"domain": [0, 80], "nice": false}, "axis": {"title": "SD duration (sec)", "values": [0, 20, 40, 60, 80], "titleFontSize": 19, "tickSize": 5, "labelPadding": 2, "titlePadding": 8}}}},
                        {"mark": {"type": "point", "shape": "M-1,0H1M0,-1V1", "filled": false, "size": 64, "strokeWidth": 1.6, "opacity": 1}, "encoding": {"y": {"field": "mean", "type": "quantitative", "scale": {"domain": [0, 80], "nice": false}, "axis": {"title": "SD duration (sec)", "values": [0, 20, 40, 60, 80], "titleFontSize": 19, "tickSize": 5, "labelPadding": 2, "titlePadding": 8}}}}
                      ]
                    }
                  ]
                }
              ]
            }
          ]
        }
      ]
    }
  ]
}
